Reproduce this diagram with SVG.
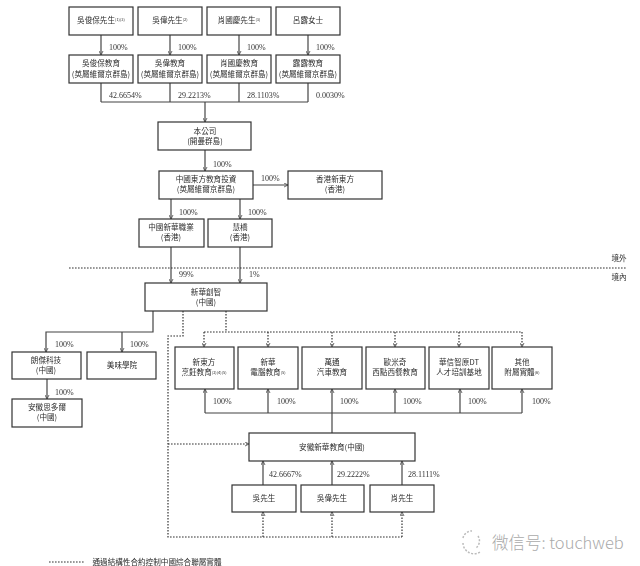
<svg xmlns="http://www.w3.org/2000/svg" width="640" height="566" viewBox="0 0 640 566">
<style>
.b{fill:#fff;stroke:#333;stroke-width:1.2}
.t{font-family:"Noto Sans CJK TC","Noto Sans CJK SC",sans-serif;font-size:7.6px;fill:#2c2c2c;text-anchor:middle}
.s{font-size:4px}
.p{font-family:"Liberation Serif",serif;font-size:8px;fill:#333}
.c{fill:none;stroke:#444;stroke-width:1.2}
.a{marker-end:url(#h)}
.d{fill:none;stroke:#333;stroke-width:1.2;stroke-dasharray:1.6 1.4}
.w{font-family:"Noto Sans CJK SC",sans-serif;font-size:16.5px;fill:#aaa;font-weight:300}
</style>
<defs>
<marker id="h" markerWidth="5" markerHeight="5" refX="4" refY="2.5" orient="auto" markerUnits="userSpaceOnUse"><path d="M0 0.5L4 2.5L0 4.5" fill="none" stroke="#444" stroke-width="0.8"/></marker>
<filter id="f" x="-2%" y="-2%" width="104%" height="104%"><feGaussianBlur stdDeviation="0.35"/></filter>
</defs>
<rect width="640" height="566" fill="#fff"/>
<g filter="url(#f)">
<g id="connectors">
<path class="c a" d="M101 35V55"/><path class="c a" d="M170 35V55"/><path class="c a" d="M239 35V55"/><path class="c a" d="M308 35V55"/>
<path class="c" d="M101 83V102M170 83V102M239 83V102M308 83V102M101 102H308"/>
<path class="c a" d="M205 102V122"/>
<path class="c a" d="M205 150V171"/>
<path class="c a" d="M253 185H288"/>
<path class="c a" d="M171 199V219"/>
<path class="c a" d="M240 199V219"/>
<path class="c a" d="M171 247V283"/>
<path class="c a" d="M240 247V283"/>
<path class="c a" d="M153 311V332H46V352"/>
<path class="c a" d="M122 332V352"/>
<path class="c a" d="M47 379V399"/>
<path class="c" d="M205 413H522"/>
<path class="c a" d="M205 413V389"/><path class="c a" d="M268 413V389"/><path class="c a" d="M332 413V389"/><path class="c a" d="M395 413V389"/><path class="c a" d="M460 413V389"/><path class="c a" d="M522 413V389"/>
<path class="c" d="M332 413V433"/>
<path class="c a" d="M263 485V461"/><path class="c a" d="M332 485V461"/><path class="c a" d="M402 485V461"/>
<path class="d" d="M183 311V336H168V537H402"/>
<path class="d a" d="M168 444H249"/>
<path class="d a" d="M263 537V512"/><path class="d a" d="M332 537V512"/><path class="d a" d="M402 537V512"/>
<path class="d" d="M226 311V332M204 332H522"/>
<path class="d a" d="M204 332V347"/><path class="d a" d="M268 332V347"/><path class="d a" d="M332 332V347"/><path class="d a" d="M395 332V347"/><path class="d a" d="M459 332V347"/><path class="d a" d="M522 332V347"/>
<path class="d" d="M69 268H627" stroke-dasharray="1.5 1.5"/>
<path class="d" d="M49 562H84" stroke-dasharray="1.5 1.2"/>
</g>
<g id="n1"><rect class="b" x="69" y="7" width="64" height="28"/><text class="t" x="101" y="23">吳俊保先生<tspan class="s" dy="-2">(1)(3)</tspan></text></g>
<g id="n2"><rect class="b" x="138" y="7" width="64" height="28"/><text class="t" x="170" y="23">吳偉先生<tspan class="s" dy="-2">(2)</tspan></text></g>
<g id="n3"><rect class="b" x="207" y="7" width="64" height="28"/><text class="t" x="239" y="23">肖國慶先生<tspan class="s" dy="-2">(3)</tspan></text></g>
<g id="n4"><rect class="b" x="276" y="7" width="64" height="28"/><text class="t" x="308" y="23">呂露女士</text></g>
<g id="n5"><rect class="b" x="69" y="55" width="64" height="28"/><text class="t" x="101" y="66">吳俊保教育</text><text class="t" x="101" y="77">(英屬維爾京群島)</text></g>
<g id="n6"><rect class="b" x="138" y="55" width="64" height="28"/><text class="t" x="170" y="66">吳偉教育</text><text class="t" x="170" y="77">(英屬維爾京群島)</text></g>
<g id="n7"><rect class="b" x="207" y="55" width="64" height="28"/><text class="t" x="239" y="66">肖國慶教育</text><text class="t" x="239" y="77">(英屬維爾京群島)</text></g>
<g id="n8"><rect class="b" x="276" y="55" width="64" height="28"/><text class="t" x="308" y="66">露露教育</text><text class="t" x="308" y="77">(英屬維爾京群島)</text></g>
<g id="n9"><rect class="b" x="158" y="122" width="93" height="28"/><text class="t" x="205" y="134">本公司</text><text class="t" x="205" y="144">(開曼群島)</text></g>
<g id="n10"><rect class="b" x="159" y="171" width="94" height="28"/><text class="t" x="206" y="182">中國東方教育投資</text><text class="t" x="206" y="192">(英屬維爾京群島)</text></g>
<g id="n11"><rect class="b" x="288" y="171" width="94" height="28"/><text class="t" x="335" y="182">香港新東方</text><text class="t" x="335" y="192">(香港)</text></g>
<g id="n12"><rect class="b" x="139" y="219" width="65" height="28"/><text class="t" x="171" y="230">中國新華職業</text><text class="t" x="171" y="240">(香港)</text></g>
<g id="n13"><rect class="b" x="208" y="219" width="64" height="28"/><text class="t" x="240" y="230">慧橋</text><text class="t" x="240" y="240">(香港)</text></g>
<g id="n14"><rect class="b" x="145" y="283" width="122" height="28"/><text class="t" x="206" y="295">新華創智</text><text class="t" x="206" y="305">(中國)</text></g>
<g id="n15"><rect class="b" x="12" y="352" width="69" height="27"/><text class="t" x="46" y="363">朗傑科技</text><text class="t" x="46" y="373">(中國)</text></g>
<g id="n16"><rect class="b" x="87" y="352" width="69" height="27"/><text class="t" x="122" y="368">美味學院</text></g>
<g id="n17"><rect class="b" x="12" y="399" width="70" height="28"/><text class="t" x="47" y="410">安徽思多爾</text><text class="t" x="47" y="420">(中國)</text></g>
<g id="n18"><rect class="b" x="175" y="347" width="59" height="42"/><text class="t" x="204" y="365">新東方</text><text class="t" x="204" y="375">烹飪教育<tspan class="s" dy="-1">(2)(4)(5)</tspan></text></g>
<g id="n19"><rect class="b" x="238" y="347" width="60" height="42"/><text class="t" x="268" y="365">新華</text><text class="t" x="268" y="375">電腦教育<tspan class="s" dy="-1">(5)</tspan></text></g>
<g id="n20"><rect class="b" x="302" y="347" width="60" height="42"/><text class="t" x="332" y="365">萬通</text><text class="t" x="332" y="375">汽車教育</text></g>
<g id="n21"><rect class="b" x="366" y="347" width="59" height="42"/><text class="t" x="395" y="365">歐米奇</text><text class="t" x="395" y="375">西點西餐教育</text></g>
<g id="n22"><rect class="b" x="429" y="347" width="60" height="42"/><text class="t" x="459" y="365">華信智原DT</text><text class="t" x="459" y="375">人才培訓基地</text></g>
<g id="n23"><rect class="b" x="492" y="347" width="60" height="42"/><text class="t" x="522" y="365">其他</text><text class="t" x="522" y="375">附屬實體<tspan class="s" dy="-1">(6)</tspan></text></g>
<g id="n24"><rect class="b" x="249" y="433" width="166" height="28"/><text class="t" x="332" y="450">安徽新華教育(中國)</text></g>
<g id="n25"><rect class="b" x="232" y="485" width="64" height="27"/><text class="t" x="264" y="501">吳先生</text></g>
<g id="n26"><rect class="b" x="301" y="485" width="63" height="27"/><text class="t" x="332" y="501">吳偉先生</text></g>
<g id="n27"><rect class="b" x="370" y="485" width="64" height="27"/><text class="t" x="402" y="501">肖先生</text></g>
<g id="labels">
<text class="p" x="109" y="50">100%</text><text class="p" x="178" y="50">100%</text><text class="p" x="247" y="50">100%</text><text class="p" x="316" y="50">100%</text>
<text class="p" x="109" y="98">42.6654%</text><text class="p" x="178" y="98">29.2213%</text><text class="p" x="247" y="98">28.1103%</text><text class="p" x="316" y="98">0.0030%</text>
<text class="p" x="213" y="167">100%</text><text class="p" x="261" y="181">100%</text>
<text class="p" x="179" y="215">100%</text><text class="p" x="248" y="215">100%</text>
<text class="p" x="179" y="277">99%</text><text class="p" x="249" y="277">1%</text>
<text class="p" x="55" y="347">100%</text><text class="p" x="130" y="347">100%</text><text class="p" x="55" y="395">100%</text>
<text class="p" x="213" y="404">100%</text><text class="p" x="277" y="404">100%</text><text class="p" x="340" y="404">100%</text><text class="p" x="403" y="404">100%</text><text class="p" x="468" y="404">100%</text><text class="p" x="532" y="404">100%</text>
<text class="p" x="269" y="477">42.6667%</text><text class="p" x="337" y="477">29.2222%</text><text class="p" x="408" y="477">28.1111%</text>
<text class="t" x="619" y="261">境外</text><text class="t" x="619" y="280">境內</text>
<text class="t" x="157" y="565">通過結構性合約控制中國綜合聯屬實體</text>
</g>
</g>
<g id="watermark">
<path d="M463 538a9 9 0 0 1 9-7M478 536a9 9 0 0 1-2 12M463 543a11 11 0 0 0 17 9" fill="none" stroke="#bbb" stroke-width="1.5" stroke-dasharray="2 1.5"/>
<text class="w" x="492" y="549">微信号: touchweb</text>
</g>
</svg>
